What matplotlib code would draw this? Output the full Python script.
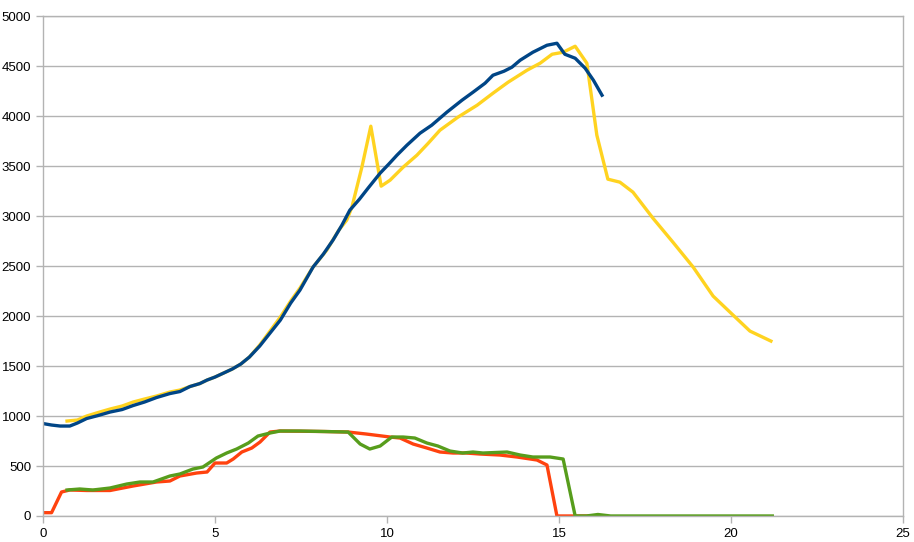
import matplotlib.pyplot as plt

# series values
blue_x = [0.0, 0.25, 0.5, 0.78, 1.0, 1.27, 1.6, 1.95, 2.3, 2.62, 2.95, 3.3, 3.69, 3.98,
          4.27, 4.56, 4.77, 5.0, 5.25, 5.5, 5.75, 6.0, 6.3, 6.6, 6.9, 7.2, 7.47, 7.85,
          8.15, 8.43, 8.69, 8.92, 9.2, 9.45, 9.8, 10.05, 10.29, 10.58, 10.96, 11.3,
          11.74, 12.18, 12.5, 12.85, 13.08, 13.4, 13.63, 13.87, 14.24, 14.65, 14.94,
          15.17, 15.47, 15.76, 16.0, 16.25]
blue_y = [925, 910, 900, 900, 930, 975, 1005, 1040, 1065, 1105, 1140, 1185, 1225, 1245,
          1295, 1325, 1360, 1390, 1430, 1470, 1520, 1590, 1700, 1830, 1960, 2130, 2260, 2490,
          2620, 2760, 2910, 3060, 3170, 3280, 3430, 3520, 3610, 3710, 3830, 3910,
          4040, 4160, 4240, 4330, 4410, 4450, 4490, 4560, 4640, 4710, 4730,
          4620, 4580, 4480, 4360, 4210]

yellow_x = [0.7, 1.0, 1.27, 1.6, 1.95, 2.3, 2.62, 2.95, 3.3, 3.69, 3.98, 4.27, 4.56,
            4.77, 5.0, 5.25, 5.5, 5.75, 6.0, 6.3, 6.6, 6.9, 7.2, 7.47, 7.85, 8.25,
            8.6, 8.83, 8.98, 9.27, 9.53, 9.83, 10.09, 10.47, 10.87, 11.2, 11.54, 12.06,
            12.62, 13.08, 13.52, 14.07, 14.45, 14.8, 15.12, 15.47, 15.81, 16.1, 16.42,
            16.77, 17.15, 17.73, 18.31, 18.9, 19.48, 20.06, 20.55, 21.16]
yellow_y = [950, 960, 1000, 1035, 1070, 1100, 1140, 1170, 1200, 1240, 1260, 1295, 1325,
            1360, 1390, 1430, 1470, 1520, 1590, 1710, 1850, 1990, 2150, 2280, 2490, 2660,
            2860, 2960, 3090, 3490, 3900, 3300, 3360, 3490, 3610, 3730, 3860, 3990,
            4110, 4230, 4340, 4460, 4530, 4620, 4640, 4700, 4530, 3810, 3370,
            3340, 3240, 2980, 2740, 2490, 2200, 2010, 1850, 1750]

red_x = [0.0, 0.25, 0.54, 0.78, 1.27, 1.95, 2.62, 3.3, 3.69, 3.98, 4.47, 4.77, 5.0,
         5.34, 5.53, 5.78, 6.07, 6.31, 6.6, 6.89, 7.5, 8.2, 8.87, 9.4, 10.09, 10.38,
         10.76, 11.16, 11.54, 11.92, 12.3, 12.7, 13.28, 13.78, 14.36, 14.65, 14.94,
         15.2, 15.6, 16.2]
red_y = [33, 33, 240, 260, 255, 255, 300, 340, 350, 400, 430, 440, 530,
         530, 570, 640, 680, 740, 840, 850, 848, 845, 840, 820, 790, 780,
         720, 680, 640, 630, 630, 620, 610, 590, 560, 510, 0,
         0, 0, 0]

green_x = [0.7, 1.07, 1.45, 1.95, 2.44, 2.82, 3.2, 3.69, 3.98, 4.36, 4.65, 5.04, 5.34,
           5.63, 5.97, 6.25, 6.6, 6.89, 7.47, 8.2, 8.87, 9.22, 9.5, 9.8, 10.14, 10.47,
           10.81, 11.16, 11.48, 11.83, 12.2, 12.5, 12.79, 13.49, 13.87, 14.24, 14.74,
           15.12, 15.47, 15.8, 16.13, 16.5, 17.5, 18.5, 19.5, 20.5, 21.2]
green_y = [260, 270, 260, 280, 320, 340, 340, 400, 420, 470, 490, 580, 630,
           670, 730, 800, 830, 850, 850, 845, 840, 720, 670, 700, 790, 790,
           780, 730, 700, 650, 630, 640, 630, 640, 610, 590, 590,
           570, 0, 0, 15, 0, 0, 0, 0, 0, 0]

x_ticks = [0, 5, 10, 15, 20, 25]
y_ticks = [0, 500, 1000, 1500, 2000, 2500, 3000, 3500, 4000, 4500, 5000]

plt.rcParams['font.family'] = ['Liberation Sans', 'DejaVu Sans']

fig = plt.figure(figsize=(9.14, 5.42), dpi=100)
ax = fig.add_axes([0.047, 0.048, 0.941, 0.922])

grid_col = "#b3b3b3"
ax.plot(yellow_x, yellow_y, color="#ffd320", linewidth=2.4, solid_joinstyle="round")
ax.plot(blue_x, blue_y, color="#004586", linewidth=2.4, solid_joinstyle="round")
ax.plot(red_x, red_y, color="#ff420e", linewidth=2.4, solid_joinstyle="round")
ax.plot(green_x, green_y, color="#579d1c", linewidth=2.4, solid_joinstyle="round")

ax.set_xlim(0, 25)
ax.set_ylim(0, 5000)
ax.set_xticks(x_ticks)
ax.set_yticks(y_ticks)
ax.yaxis.grid(True, color=grid_col, linewidth=1)
ax.set_axisbelow(True)
for s in ax.spines.values():
    s.set_color(grid_col)
    s.set_linewidth(1)
ax.tick_params(colors=grid_col, labelcolor="black", length=5, width=1, labelsize=9.5)

fig.savefig("out.png", dpi=100)
